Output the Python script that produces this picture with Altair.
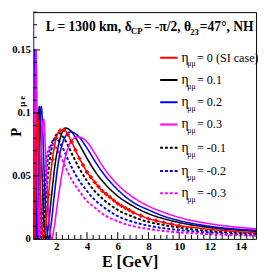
import altair as alt
import pandas as pd

# ---------------- data ----------------
E_red = [0.5, 0.55, 0.59, 0.65, 0.72, 0.78, 0.85, 0.95, 1.05, 1.18, 1.3, 1.45,
         1.5, 1.75, 2.0, 2.25, 2.5, 2.75, 3.0, 3.25, 3.5, 3.75, 4.0, 4.25, 4.5, 4.75,
         5.0, 5.25, 5.5, 5.75, 6.0, 6.25, 6.5, 6.75, 7.0, 7.5, 8.0, 8.5, 9.0, 9.5, 10.0,
         11.0, 12.0, 13.0, 14.0, 15.0]
P_red = [0.12, 0.05, 0.0, 0.03, 0.08, 0.10, 0.085, 0.045, 0.015, 0.0, 0.008, 0.028,
         0.035, 0.063, 0.080, 0.086, 0.0865, 0.083, 0.077, 0.0705, 0.064, 0.0585, 0.053, 0.049, 0.045, 0.0415,
         0.038, 0.0355, 0.033, 0.0305, 0.028, 0.0262, 0.0245, 0.0228, 0.021, 0.0185, 0.016, 0.0145, 0.013, 0.0117, 0.0105,
         0.009, 0.0075, 0.0065, 0.0055, 0.005]

E_p1 = [0.5, 0.52, 0.58, 0.65, 0.72, 0.8, 0.9, 0.98, 1.08, 1.2, 1.35, 1.5, 1.7, 1.9, 2.2, 2.6,
        3.0, 3.5, 4.0, 4.5, 5.0, 6.0, 7.0, 8.0, 9.0, 10.0, 12.0, 14.0, 15.0]
P_p1 = [0.14, 0.15, 0.08, 0.0, 0.03, 0.075, 0.105, 0.09, 0.05, 0.015, 0.0, 0.012, 0.035, 0.057, 0.077, 0.088,
        0.085, 0.075, 0.064, 0.054, 0.046, 0.034, 0.026, 0.020, 0.016, 0.013, 0.009, 0.0068, 0.006]

E_p2 = [0.5, 0.55, 0.6, 0.66, 0.75, 0.85, 0.95, 1.03, 1.12, 1.25, 1.38, 1.5, 1.65, 1.85, 2.1, 2.5,
        2.95, 3.4, 4.0, 4.5, 5.0, 6.0, 7.0, 8.0, 9.0, 10.0, 12.0, 14.0, 15.0]
P_p2 = [0.04, 0.12, 0.15, 0.09, 0.0, 0.05, 0.095, 0.105, 0.085, 0.04, 0.01, 0.0, 0.01, 0.032, 0.058, 0.079,
        0.085, 0.082, 0.072, 0.062, 0.053, 0.039, 0.029, 0.023, 0.018, 0.0145, 0.010, 0.0075, 0.0068]

E_p3 = [0.5, 0.53, 0.57, 0.63, 0.68, 0.74, 0.85, 0.95, 1.07, 1.18, 1.3, 1.45, 1.6, 1.72, 1.85, 2.1, 2.5,
        3.0, 3.4, 4.0, 4.5, 5.0, 6.0, 7.0, 8.0, 9.0, 10.0, 12.0, 14.0, 15.0]
P_p3 = [0.2, 0.1, 0.0, 0.09, 0.15, 0.11, 0.0, 0.04, 0.085, 0.095, 0.07, 0.03, 0.005, 0.0, 0.008, 0.03, 0.06,
        0.078, 0.081, 0.077, 0.068, 0.058, 0.043, 0.033, 0.026, 0.021, 0.017, 0.012, 0.009, 0.008]

E_m1 = [0.5, 0.54, 0.6, 0.66, 0.72, 0.8, 0.9, 1.0, 1.08, 1.2, 1.35, 1.55, 1.8, 2.15, 2.5,
        3.0, 3.5, 4.0, 4.5, 5.0, 6.0, 7.0, 8.0, 9.0, 10.0, 12.0, 14.0, 15.0]
P_m1 = [0.06, 0.0, 0.05, 0.09, 0.098, 0.07, 0.03, 0.005, 0.0, 0.012, 0.035, 0.06, 0.077, 0.084, 0.080,
        0.068, 0.056, 0.046, 0.038, 0.032, 0.023, 0.0175, 0.0135, 0.011, 0.009, 0.0062, 0.0047, 0.0042]

E_m2 = [0.5, 0.55, 0.6, 0.65, 0.72, 0.82, 0.9, 0.98, 1.1, 1.25, 1.45, 1.7, 1.95, 2.3, 2.8,
        3.3, 4.0, 4.5, 5.0, 6.0, 7.0, 8.0, 9.0, 10.0, 12.0, 14.0, 15.0]
P_m2 = [0.01, 0.06, 0.10, 0.105, 0.07, 0.03, 0.008, 0.0, 0.015, 0.04, 0.063, 0.076, 0.080, 0.075, 0.062,
        0.050, 0.038, 0.031, 0.026, 0.018, 0.0135, 0.0105, 0.0085, 0.007, 0.005, 0.0037, 0.0033]

E_m3 = [0.5, 0.55, 0.6, 0.66, 0.75, 0.83, 0.9, 1.0, 1.15, 1.35, 1.55, 1.8, 2.1, 2.6,
        3.0, 3.5, 4.0, 4.5, 5.0, 6.0, 7.0, 8.0, 9.0, 10.0, 12.0, 14.0, 15.0]
P_m3 = [0.05, 0.10, 0.11, 0.08, 0.03, 0.005, 0.0, 0.012, 0.038, 0.062, 0.073, 0.075, 0.070, 0.057,
        0.047, 0.038, 0.030, 0.025, 0.020, 0.014, 0.010, 0.0078, 0.0063, 0.0052, 0.0037, 0.0028, 0.0025]

labels = ["= 0 (SI case)", "= 0.1", "= 0.2", "= 0.3", "= -0.1", "= -0.2", "= -0.3"]
colors = ["#ff0000", "#000000", "#0000ff", "#ff00ff", "#000000", "#0000ff", "#ff00ff"]
dashed = [False, False, False, False, True, True, True]
curves = [(E_red, P_red), (E_p1, P_p1), (E_p2, P_p2), (E_p3, P_p3),
          (E_m1, P_m1), (E_m2, P_m2), (E_m3, P_m3)]

x_major = [2, 4, 6, 8, 10, 12, 14]
y_major = [0, 0.05, 0.1, 0.15]

# ---------------- chart ----------------
W, H = 230, 234
FONT = "Liberation Sans Narrow"
xs = alt.Scale(domain=[0.5, 15], nice=False, zero=False)
ys = alt.Scale(domain=[0, 0.18], nice=False)
ax_x = alt.Axis(values=x_major, ticks=False, domain=False, grid=False,
                labelFont=FONT, labelFontSize=11.5, labelFontWeight="bold",
                labelPadding=2, title=None)
ax_y = alt.Axis(values=y_major, format="~g", ticks=False, domain=False, grid=False,
                labelFont=FONT, labelFontSize=11, labelFontWeight="bold",
                labelPadding=3, title=None)


def X(f):
    return alt.X(f, scale=xs, axis=ax_x)


def Y(f):
    return alt.Y(f, scale=ys, axis=ax_y)


layers = []

draw_order = [4, 5, 6, 1, 2, 3, 0]
for i in draw_order:
    E, P = curves[i]
    df = pd.DataFrame({"E": E, "P": P})
    mk = alt.Chart(df).mark_line(
        color=colors[i], strokeWidth=2 if dashed[i] else 1.6, clip=True,
        interpolate="monotone", strokeDash=[3, 2] if dashed[i] else [1, 0])
    layers.append(mk.encode(x=X("E:Q"), y=Y("P:Q")))

# red markers (SI case)
red_df = pd.DataFrame({"E": E_red, "P": P_red})
red_df = red_df[(red_df.E >= 1.5) & (red_df.E <= 10)]
layers.append(alt.Chart(red_df).mark_point(shape="cross", filled=True, size=18, color="#ff0000", opacity=1).encode(
    x=X("E:Q"), y=Y("P:Q")))

# inner ticks
x_minor = [round(0.8 + 0.4 * k, 1) for k in range(36)]
x_minor = [v for v in x_minor if v <= 15 and v not in x_major]
y_minor = [round(0.01 * k, 2) for k in range(19)]
y_minor = [v for v in y_minor if v not in y_major]


def xt(vals, length):
    return alt.Chart(pd.DataFrame({"t": vals})).mark_rule(color="black", strokeWidth=1).encode(
        x=X("t:Q"), y=alt.value(H), y2=alt.value(H - length))


def yt(vals, length):
    return alt.Chart(pd.DataFrame({"t": vals})).mark_rule(color="black", strokeWidth=1).encode(
        y=Y("t:Q"), x=alt.value(0), x2=alt.value(length))


layers += [xt(x_major, 7), xt(x_minor, 4), yt(y_major, 7), yt(y_minor, 4)]

one = alt.Data(values=[{}])


def txt(s, x, y, size, font=FONT, weight="bold", angle=0, align="left", baseline="alphabetic"):
    return alt.Chart(one).mark_text(text=s, font=font, fontSize=size, fontWeight=weight, angle=angle,
                                    align=align, baseline=baseline, color="black").encode(
        x=alt.value(x), y=alt.value(y))


# title inside plot
layers += [
    txt("L = 1300 km, \u03b4", 13, 19, 14),
    txt("CP", 101, 23, 9),
    txt("= -\u03c0/2, \u03b8", 114, 19, 14),
    txt("23", 162, 24, 9),
    txt("=47\u00b0, NH", 172, 19, 14),
]

# legend
rows_y = [47, 70, 93, 116, 140, 164, 187]
for i, lab in enumerate(labels):
    yy = rows_y[i]
    layers.append(alt.Chart(one).mark_rule(color=colors[i], strokeWidth=2,
                                          strokeDash=[3, 2] if dashed[i] else [1, 0]).encode(
        x=alt.value(131), x2=alt.value(149), y=alt.value(yy)))
    layers.append(txt("\u03b7", 153, yy + 4, 14, weight="normal"))
    layers.append(txt("\u03bc\u03bc", 159, yy + 9, 8, weight="normal"))
    layers.append(txt(lab, 169, yy + 4, 12.5, weight="normal"))

# axis titles
layers.append(txt("E [GeV]", 100, 263, 16.5, font="Liberation Serif", align="center"))
layers.append(txt("P", -13, 124, 15, font="Liberation Serif", angle=270, align="center"))
layers.append(txt("\u03bc e", -8.5, 92, 9, font="Liberation Serif", angle=270, align="center"))

chart = alt.layer(*layers).properties(
    width=W, height=H,
    autosize=alt.AutoSizeParams(type="none"),
    padding={"left": 26, "top": 0, "right": 2, "bottom": 33},
).configure_view(stroke="black", strokeWidth=1)

chart.save("out.html", embed_options={"renderer": "svg", "actions": False})
